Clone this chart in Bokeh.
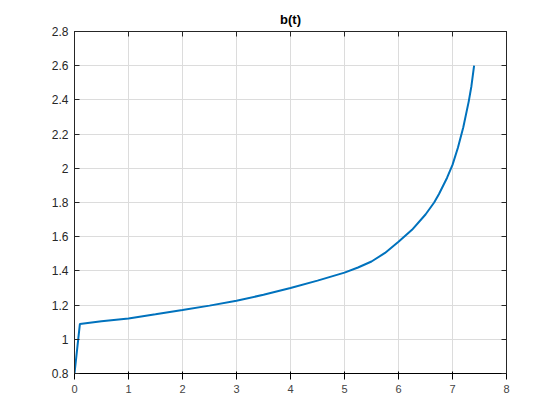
from bokeh.plotting import figure
from bokeh.models import Range1d, LinearAxis, FixedTicker, CustomJSTickFormatter
from bokeh.embed import file_html
from bokeh.resources import INLINE

t = [0, 0.1, 0.5, 1.0, 1.5, 2.0, 2.5, 3.0, 3.5, 4.0, 4.5, 5.0, 5.25, 5.5, 5.75,
     6.0, 6.25, 6.5, 6.66, 6.75, 6.9, 7.0, 7.1, 7.2, 7.3, 7.35, 7.4]
b = [0.8, 1.09, 1.105, 1.122, 1.146, 1.171, 1.197, 1.226, 1.26, 1.30, 1.343,
     1.39, 1.42, 1.455, 1.505, 1.57, 1.64, 1.73, 1.80, 1.85, 1.945, 2.02,
     2.12, 2.24, 2.39, 2.48, 2.6]

x_ticks = [0, 1, 2, 3, 4, 5, 6, 7, 8]
y_ticks = [0.8, 1.0, 1.2, 1.4, 1.6, 1.8, 2.0, 2.2, 2.4, 2.6, 2.8]
y_tick_labels = ["0.8", "1", "1.2", "1.4", "1.6", "1.8", "2", "2.2", "2.4", "2.6", "2.8"]

FONT = "Liberation Sans"
AX = "#262626"

p = figure(width=552, height=412, output_backend="svg", toolbar_location=None,
           x_range=Range1d(0, 8), y_range=Range1d(0.8, 2.8),
           min_border_left=74, min_border_right=46, min_border_top=31,
           min_border_bottom=39, background_fill_color="white",
           border_fill_color="white")

p.title.text = "b(t)"
p.title.align = "center"
p.title.text_font = FONT
p.title.text_font_size = "13px"
p.title.text_font_style = "bold"
p.title.text_color = "black"

p.outline_line_color = AX
p.outline_line_width = 1

p.line(t, b, line_color="#0072BD", line_width=2)

p.xaxis.ticker = FixedTicker(ticks=x_ticks)
p.yaxis.ticker = FixedTicker(ticks=y_ticks)
p.yaxis.major_label_overrides = {v: s for v, s in zip(y_ticks, y_tick_labels)}

blank = CustomJSTickFormatter(code="return '';")
right = LinearAxis(ticker=FixedTicker(ticks=y_ticks), formatter=blank)
top = LinearAxis(ticker=FixedTicker(ticks=x_ticks), formatter=blank)
p.add_layout(right, "right")
p.add_layout(top, "above")

for ax in [p.xaxis[0], p.yaxis[0], right, top]:
    ax.axis_line_color = AX
    ax.major_tick_line_color = AX
    ax.major_tick_in = 5
    ax.major_tick_out = 0
    ax.minor_tick_line_color = None
    ax.major_label_text_font = FONT
    ax.major_label_text_font_size = "12px"
    ax.major_label_text_color = AX

for ax in [right, top]:
    ax.major_label_standoff = 0

p.xaxis[0].major_label_standoff = 7
p.yaxis[0].major_label_standoff = 6

p.xgrid.ticker = FixedTicker(ticks=x_ticks)
p.ygrid.ticker = FixedTicker(ticks=y_ticks)
p.grid.grid_line_color = "#dcdcdc"
p.grid.grid_line_width = 1

open("out.html", "w").write(file_html(p, INLINE))
